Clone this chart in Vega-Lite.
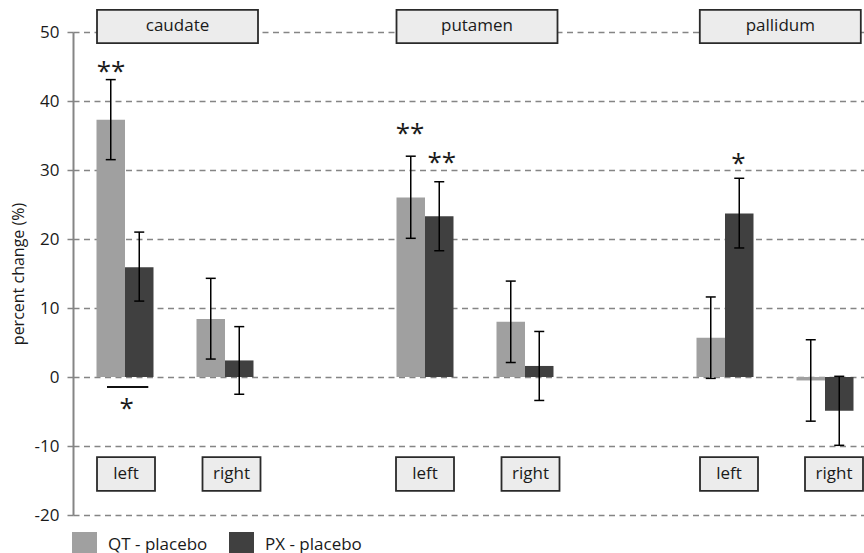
{
  "$schema": "https://vega.github.io/schema/vega-lite/v6.json",
  "width": 791,
  "height": 483,
  "autosize": "none",
  "padding": {"left": 73, "top": 32, "right": 0, "bottom": 38},
  "background": "white",
  "config": {"font": "Open Sans", "view": {"stroke": null}},
  "datasets": {
    "bars": [
      {"region": "caudate", "side": "left", "pos": 1, "group": "QT - placebo", "value": 37.3, "lo": 31.5, "hi": 43.1},
      {"region": "caudate", "side": "left", "pos": 1, "group": "PX - placebo", "value": 15.9, "lo": 11.0, "hi": 21.0},
      {"region": "caudate", "side": "right", "pos": 2, "group": "QT - placebo", "value": 8.4, "lo": 2.6, "hi": 14.3},
      {"region": "caudate", "side": "right", "pos": 2, "group": "PX - placebo", "value": 2.4, "lo": -2.5, "hi": 7.3},
      {"region": "putamen", "side": "left", "pos": 4, "group": "QT - placebo", "value": 26.0, "lo": 20.1, "hi": 32.0},
      {"region": "putamen", "side": "left", "pos": 4, "group": "PX - placebo", "value": 23.3, "lo": 18.3, "hi": 28.3},
      {"region": "putamen", "side": "right", "pos": 5, "group": "QT - placebo", "value": 8.0, "lo": 2.1, "hi": 13.9},
      {"region": "putamen", "side": "right", "pos": 5, "group": "PX - placebo", "value": 1.6, "lo": -3.4, "hi": 6.6},
      {"region": "pallidum", "side": "left", "pos": 7, "group": "QT - placebo", "value": 5.7, "lo": -0.2, "hi": 11.6},
      {"region": "pallidum", "side": "left", "pos": 7, "group": "PX - placebo", "value": 23.7, "lo": 18.7, "hi": 28.8},
      {"region": "pallidum", "side": "right", "pos": 8, "group": "QT - placebo", "value": -0.5, "lo": -6.4, "hi": 5.4},
      {"region": "pallidum", "side": "right", "pos": 8, "group": "PX - placebo", "value": -4.9, "lo": -9.9, "hi": 0.1}
    ],
    "regions": [
      {"label": "caudate", "at": 1.525},
      {"label": "putamen", "at": 4.52},
      {"label": "pallidum", "at": 7.553}
    ],
    "sides": [
      {"label": "left", "at": 1.01},
      {"label": "right", "at": 2.065},
      {"label": "left", "at": 4.0},
      {"label": "right", "at": 5.055},
      {"label": "left", "at": 7.04},
      {"label": "right", "at": 8.09}
    ],
    "stars": [
      {"mark": "**", "at": 0.86, "y": 45.3},
      {"mark": "**", "at": 3.85, "y": 36.4},
      {"mark": "**", "at": 4.167, "y": 32.2},
      {"mark": "*", "at": 7.135, "y": 32.0},
      {"mark": "*", "at": 1.017, "y": -3.55}
    ],
    "lines": [
      {"from": 0.82, "to": 1.233, "y": -1.45}
    ]
  },
  "layer": [
    {
      "data": {"name": "bars"},
      "transform": [{"filter": "datum.group === 'QT - placebo'"}],
      "mark": {"type": "bar", "width": 28.5, "xOffset": -14.25},
      "encoding": {
        "x": {"field": "pos", "type": "quantitative", "scale": {"domain": [0.48, 8.39], "nice": false, "zero": false, "padding": 0}, "axis": null},
        "y": {
          "field": "value", "type": "quantitative",
          "scale": {"domain": [-20, 50], "nice": false, "zero": false, "padding": 0},
          "title": "percent change (%)",
          "axis": {
            "values": [-20, -10, 0, 10, 20, 30, 40, 50],
            "labelExpr": "datum.value < 0 ? '-' + abs(datum.value) : '' + datum.value",
            "grid": true, "gridDash": [6, 4.5], "gridColor": "#858585", "gridWidth": 1.5,
            "domainColor": "#858585", "domainWidth": 2,
            "tickColor": "#858585", "tickSize": 6, "tickWidth": 1.5,
            "labelFontSize": 17, "labelColor": "#1a1a1a", "labelPadding": 8,
            "titleFontSize": 16, "titleFontWeight": "normal", "titleColor": "#1a1a1a",
            "titleX": -55, "titleY": 241.5, "titleAngle": -90, "titleAlign": "center", "titleBaseline": "middle"
          }
        },
        "y2": {"datum": 0},
        "color": {
          "field": "group", "type": "nominal",
          "scale": {"domain": ["QT - placebo", "PX - placebo"], "range": ["#a0a0a0", "#404040"]},
          "legend": {
            "title": null, "orient": "none", "legendX": -1, "legendY": 500,
            "direction": "horizontal", "symbolType": "square", "symbolSize": 625,
            "symbolStrokeWidth": 0, "symbolOpacity": 1,
            "labelFontSize": 17, "labelColor": "#1a1a1a", "labelOffset": 11,
            "columnPadding": 21, "padding": 0
          }
        }
      }
    },
    {
      "data": {"name": "bars"},
      "transform": [{"filter": "datum.group === 'PX - placebo'"}],
      "mark": {"type": "bar", "width": 28.5, "xOffset": 14.25},
      "encoding": {
        "x": {"field": "pos", "type": "quantitative"},
        "y": {"field": "value", "type": "quantitative", "title": "percent change (%)"},
        "y2": {"datum": 0},
        "color": {"field": "group", "type": "nominal"}
      }
    },
    {
      "data": {"name": "bars"},
      "transform": [{"filter": "datum.group === 'QT - placebo'"}],
      "mark": {"type": "rule", "color": "black", "strokeWidth": 1.5, "xOffset": -14.25},
      "encoding": {
        "x": {"field": "pos", "type": "quantitative"},
        "y": {"field": "lo", "type": "quantitative", "title": "percent change (%)"},
        "y2": {"field": "hi"}
      }
    },
    {
      "data": {"name": "bars"},
      "transform": [{"filter": "datum.group === 'PX - placebo'"}],
      "mark": {"type": "rule", "color": "black", "strokeWidth": 1.5, "xOffset": 14.25},
      "encoding": {
        "x": {"field": "pos", "type": "quantitative"},
        "y": {"field": "lo", "type": "quantitative", "title": "percent change (%)"},
        "y2": {"field": "hi"}
      }
    },
    {
      "data": {"name": "bars"},
      "transform": [{"filter": "datum.group === 'QT - placebo'"}],
      "mark": {"type": "tick", "orient": "horizontal", "size": 10, "thickness": 1.5, "color": "black", "opacity": 1, "xOffset": -14.25},
      "encoding": {
        "x": {"field": "pos", "type": "quantitative"},
        "y": {"field": "lo", "type": "quantitative", "title": "percent change (%)"}
      }
    },
    {
      "data": {"name": "bars"},
      "transform": [{"filter": "datum.group === 'QT - placebo'"}],
      "mark": {"type": "tick", "orient": "horizontal", "size": 10, "thickness": 1.5, "color": "black", "opacity": 1, "xOffset": -14.25},
      "encoding": {
        "x": {"field": "pos", "type": "quantitative"},
        "y": {"field": "hi", "type": "quantitative", "title": "percent change (%)"}
      }
    },
    {
      "data": {"name": "bars"},
      "transform": [{"filter": "datum.group === 'PX - placebo'"}],
      "mark": {"type": "tick", "orient": "horizontal", "size": 10, "thickness": 1.5, "color": "black", "opacity": 1, "xOffset": 14.25},
      "encoding": {
        "x": {"field": "pos", "type": "quantitative"},
        "y": {"field": "lo", "type": "quantitative", "title": "percent change (%)"}
      }
    },
    {
      "data": {"name": "bars"},
      "transform": [{"filter": "datum.group === 'PX - placebo'"}],
      "mark": {"type": "tick", "orient": "horizontal", "size": 10, "thickness": 1.5, "color": "black", "opacity": 1, "xOffset": 14.25},
      "encoding": {
        "x": {"field": "pos", "type": "quantitative"},
        "y": {"field": "hi", "type": "quantitative", "title": "percent change (%)"}
      }
    },
    {
      "data": {"name": "regions"},
      "mark": {"type": "bar", "width": 161, "fill": "#ececec", "stroke": "#2a2a2a", "strokeWidth": 1.8},
      "encoding": {
        "x": {"field": "at", "type": "quantitative"},
        "y": {"datum": 53.2},
        "y2": {"datum": 48.4}
      }
    },
    {
      "data": {"name": "regions"},
      "mark": {"type": "text", "fontSize": 17, "color": "#1a1a1a", "baseline": "middle", "align": "center"},
      "encoding": {
        "x": {"field": "at", "type": "quantitative"},
        "y": {"datum": 50.8},
        "text": {"field": "label"}
      }
    },
    {
      "data": {"name": "sides"},
      "mark": {"type": "bar", "width": 58, "fill": "#ececec", "stroke": "#2a2a2a", "strokeWidth": 1.8},
      "encoding": {
        "x": {"field": "at", "type": "quantitative"},
        "y": {"datum": -11.6},
        "y2": {"datum": -16.5}
      }
    },
    {
      "data": {"name": "sides"},
      "mark": {"type": "text", "fontSize": 17, "color": "#1a1a1a", "baseline": "middle", "align": "center"},
      "encoding": {
        "x": {"field": "at", "type": "quantitative"},
        "y": {"datum": -14.05},
        "text": {"field": "label"}
      }
    },
    {
      "data": {"name": "stars"},
      "mark": {"type": "text", "fontSize": 26, "color": "#1a1a1a", "baseline": "middle", "align": "center", "dy": 8},
      "encoding": {
        "x": {"field": "at", "type": "quantitative"},
        "y": {"field": "y", "type": "quantitative", "title": "percent change (%)"},
        "text": {"field": "mark"}
      }
    },
    {
      "data": {"name": "lines"},
      "mark": {"type": "rule", "color": "#111111", "strokeWidth": 2},
      "encoding": {
        "x": {"field": "from", "type": "quantitative"},
        "x2": {"field": "to"},
        "y": {"field": "y", "type": "quantitative", "title": "percent change (%)"}
      }
    }
  ]
}
